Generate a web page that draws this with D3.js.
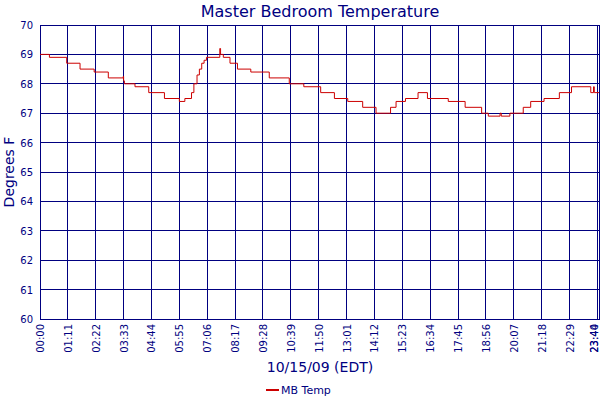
<!DOCTYPE html>
<html><head><meta charset="utf-8">
<script src="https://cdn.jsdelivr.net/npm/d3@7"></script>
<style>body{margin:0;background:#fff}text{font-family:"DejaVu Sans",Verdana,sans-serif}</style>
</head><body><div id="chart"></div>
<script>
// minutes after midnight, and temperature from that minute on
const minutes = [0, 24, 68, 102, 138, 174, 212, 213, 215, 242, 277, 317, 355, 369, 386, 392, 400, 406, 412, 418, 424,
  458, 460, 462, 467, 484, 503, 537, 584, 635, 672, 715, 750, 784, 822, 856, 893, 907, 931, 963, 987,
  1040, 1083, 1125, 1142, 1172, 1175, 1197, 1231, 1250, 1284, 1323, 1354, 1403, 1410, 1412, 1424]
const temps = [69.0, 68.9, 68.7, 68.5, 68.4, 68.2, 68.25, 68.1, 68.0, 67.9, 67.7, 67.5, 67.4, 67.5, 67.7, 68.0, 68.3, 68.5, 68.7, 68.8, 68.9,
  69.2, 69.0, 69.0, 68.9, 68.7, 68.5, 68.4, 68.2, 68.0, 67.9, 67.7, 67.5, 67.4, 67.2, 67.0, 67.2, 67.4, 67.5, 67.7, 67.5,
  67.4, 67.2, 67.0, 66.9, 67.0, 66.9, 67.0, 67.2, 67.4, 67.5, 67.7, 67.9, 67.7, 67.9, 67.7, 67.7]
const xTicks = d3.range(0, 1421, 71).concat([1424])
const yTicks = d3.range(60, 71)

const fmt = m => String(Math.floor(m / 60)).padStart(2, '0') + ':' + String(m % 60).padStart(2, '0')
const navy = '#000080', red = '#cc0000'

const svg = d3.select('#chart').append('svg').attr('width', 600).attr('height', 400)
const x = d3.scaleLinear().domain([0, 1424]).range([40, 599])
const y = d3.scaleLinear().domain([60, 70]).range([319, 25])

// grid
const grid = svg.append('g').attr('shape-rendering', 'crispEdges')
grid.append('g').selectAll('line').data(yTicks).join('line')
  .attr('x1', 40).attr('x2', 599).attr('y1', d => y(d)).attr('y2', d => y(d))
  .attr('stroke', navy)
grid.append('g').selectAll('line').data(xTicks).join('line')
  .attr('x1', d => x(d)).attr('x2', d => x(d)).attr('y1', 25).attr('y2', 319)
  .attr('stroke', navy)
grid.append('rect').attr('x', 40).attr('y', 25).attr('width', 559).attr('height', 294)
  .attr('fill', 'none').attr('stroke', navy)

// axes labels
svg.append('g').selectAll('text').data(yTicks).join('text')
  .attr('x', 33).attr('y', d => y(d) + 4).attr('text-anchor', 'end')
  .attr('font-size', 10).attr('fill', navy).text(d => d)
svg.append('g').selectAll('text').data(xTicks).join('text')
  .attr('transform', d => `translate(${Math.min(x(d) + 4, 598)},324) rotate(-90)`)
  .attr('text-anchor', 'end').attr('font-size', 10).attr('fill', navy).text(fmt)

// line
const line = d3.line().curve(d3.curveStepAfter).x(d => x(d[0])).y(d => y(d[1]))
svg.append('path').datum(d3.zip(minutes, temps)).attr('d', line)
  .attr('fill', 'none').attr('stroke', red).attr('stroke-width', 1)

svg.append('text').attr('x', 320).attr('y', 17).attr('text-anchor', 'middle')
  .attr('font-size', 16).attr('fill', navy).text('Master Bedroom Temperature')
svg.append('text').attr('transform', 'translate(14,172) rotate(-90)').attr('text-anchor', 'middle')
  .attr('font-size', 14).attr('fill', navy).text('Degrees F')
svg.append('text').attr('x', 320).attr('y', 372).attr('text-anchor', 'middle')
  .attr('font-size', 14).attr('fill', navy).text('10/15/09 (EDT)')
svg.append('line').attr('x1', 266).attr('x2', 279).attr('y1', 390).attr('y2', 390)
  .attr('stroke', red).attr('stroke-width', 2)
svg.append('text').attr('x', 281).attr('y', 394).attr('font-size', 11).attr('fill', navy).text('MB Temp')
</script></body></html>
